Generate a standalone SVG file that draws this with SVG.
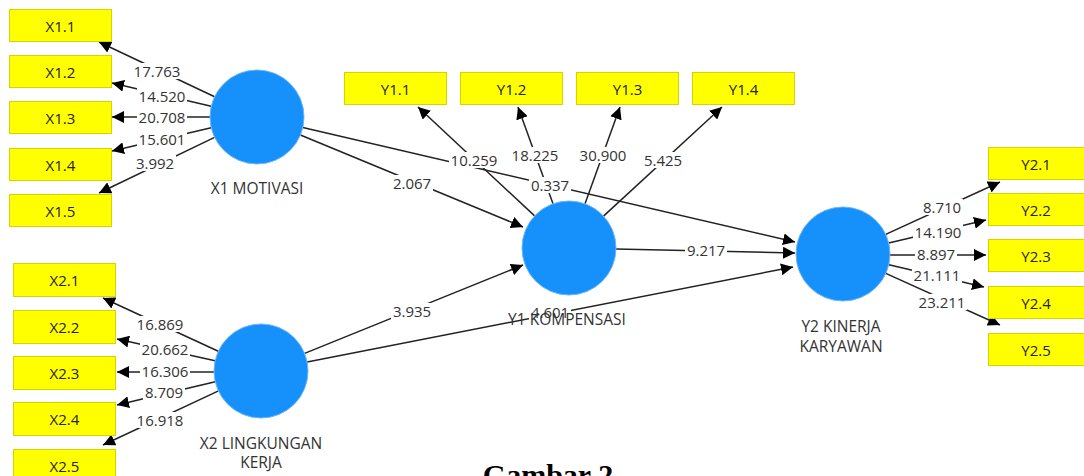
<svg xmlns="http://www.w3.org/2000/svg" width="1084" height="476" viewBox="0 0 1084 476">
<style>
.box{fill:#ffff00;stroke:#d4d400;stroke-width:1}
.bt{font-family:"Open Sans","Liberation Sans",sans-serif;font-size:15px;fill:#222;text-anchor:middle;dominant-baseline:central}
.lv{fill:#1690fb;stroke:#6fb6f7;stroke-width:1}
.lt{font-family:"Open Sans","Liberation Sans",sans-serif;font-size:15.5px;fill:#333;text-anchor:middle;dominant-baseline:central}
.ln{stroke:#222;stroke-width:1.5;fill:none;marker-end:url(#ah)}
.bg{fill:#fff}
.el{font-family:"Open Sans","Liberation Sans",sans-serif;font-size:15px;fill:#333;text-anchor:middle;dominant-baseline:central}
.cap{font-family:"Liberation Serif",serif;font-size:30px;font-weight:bold;fill:#000;text-anchor:middle}
</style>
<defs>
<marker id="ah" viewBox="0 0 10 10" refX="10" refY="5" markerWidth="12" markerHeight="12" markerUnits="userSpaceOnUse" orient="auto">
<path d="M0,0 L10,5 L0,10 z" fill="#000"/>
</marker>
</defs>
<rect width="1084" height="476" fill="#fff"/>
<g id="connectors">
<line class="ln" x1="214.6" y1="96.8" x2="99" y2="42"/>
<line class="ln" x1="211.2" y1="106.3" x2="112" y2="83"/>
<line class="ln" x1="210" y1="117" x2="112" y2="117"/>
<line class="ln" x1="211.2" y1="127.7" x2="112" y2="151"/>
<line class="ln" x1="214.6" y1="137.4" x2="99" y2="193"/>
<line class="ln" x1="218.3" y1="351.3" x2="103" y2="298"/>
<line class="ln" x1="215.1" y1="360.8" x2="117" y2="339"/>
<line class="ln" x1="214" y1="372" x2="117" y2="372"/>
<line class="ln" x1="215.3" y1="381.8" x2="117" y2="405"/>
<line class="ln" x1="218.5" y1="390.9" x2="103" y2="445"/>
<line class="ln" x1="534.6" y1="215.9" x2="418" y2="107"/>
<line class="ln" x1="553" y1="203.8" x2="518" y2="107"/>
<line class="ln" x1="585" y1="203.8" x2="620" y2="107"/>
<line class="ln" x1="603.5" y1="216.1" x2="722" y2="107"/>
<line class="ln" x1="302.8" y1="127.6" x2="795" y2="242"/>
<line class="ln" x1="300.4" y1="135" x2="523" y2="227"/>
<line class="ln" x1="304.6" y1="353.4" x2="523" y2="265"/>
<line class="ln" x1="307.1" y1="362" x2="793" y2="267"/>
<line class="ln" x1="616" y1="249" x2="795" y2="253"/>
<line class="ln" x1="885.7" y1="234.4" x2="1000" y2="182"/>
<line class="ln" x1="888.7" y1="243.1" x2="986" y2="220"/>
<line class="ln" x1="890" y1="255" x2="986" y2="255"/>
<line class="ln" x1="888.8" y1="264.7" x2="984" y2="287"/>
<line class="ln" x1="885.8" y1="273.4" x2="1000" y2="325"/>
<rect class="bg" x="132" y="63" width="50" height="16"/><text class="el" x="157" y="71">17.763</text>
<rect class="bg" x="137" y="88" width="50" height="16"/><text class="el" x="162" y="96">14.520</text>
<rect class="bg" x="137" y="109" width="50" height="16"/><text class="el" x="162" y="117">20.708</text>
<rect class="bg" x="137" y="131" width="50" height="16"/><text class="el" x="162" y="139">15.601</text>
<rect class="bg" x="134" y="155" width="42" height="16"/><text class="el" x="155" y="163">3.992</text>
<rect class="bg" x="135" y="316" width="50" height="16"/><text class="el" x="160" y="324">16.869</text>
<rect class="bg" x="140" y="341" width="50" height="16"/><text class="el" x="165" y="349">20.662</text>
<rect class="bg" x="140" y="363" width="50" height="16"/><text class="el" x="165" y="371">16.306</text>
<rect class="bg" x="143" y="384" width="42" height="16"/><text class="el" x="164" y="392">8.709</text>
<rect class="bg" x="135" y="412" width="50" height="16"/><text class="el" x="160" y="420">16.918</text>
<rect class="bg" x="449" y="152" width="50" height="16"/><text class="el" x="474" y="160">10.259</text>
<rect class="bg" x="510" y="147" width="50" height="16"/><text class="el" x="535" y="155">18.225</text>
<rect class="bg" x="578" y="147" width="50" height="16"/><text class="el" x="603" y="155">30.900</text>
<rect class="bg" x="642" y="152" width="42" height="16"/><text class="el" x="663" y="160">5.425</text>
<rect class="bg" x="391" y="175" width="42" height="16"/><text class="el" x="412" y="183">2.067</text>
<rect class="bg" x="529" y="177" width="42" height="16"/><text class="el" x="550" y="185">0.337</text>
<rect class="bg" x="685" y="242" width="42" height="16"/><text class="el" x="706" y="250">9.217</text>
<rect class="bg" x="391" y="303" width="42" height="16"/><text class="el" x="412" y="311">3.935</text>
<rect class="bg" x="529" y="304" width="42" height="16"/><text class="el" x="550" y="312">4.601</text>
<rect class="bg" x="921" y="199" width="42" height="16"/><text class="el" x="942" y="207">8.710</text>
<rect class="bg" x="913" y="224" width="50" height="16"/><text class="el" x="938" y="232">14.190</text>
<rect class="bg" x="915" y="246" width="42" height="16"/><text class="el" x="936" y="254">8.897</text>
<rect class="bg" x="912" y="267" width="50" height="16"/><text class="el" x="937" y="275">21.111</text>
<rect class="bg" x="917" y="294" width="50" height="16"/><text class="el" x="942" y="302">23.211</text>
</g>
<g id="X1.1"><rect class="box" x="9.5" y="9.5" width="102" height="32"/><text class="bt" x="60.5" y="25.5">X1.1</text></g>
<g id="X1.2"><rect class="box" x="9.5" y="55.5" width="102" height="32"/><text class="bt" x="60.5" y="71.5">X1.2</text></g>
<g id="X1.3"><rect class="box" x="9.5" y="101.5" width="102" height="32"/><text class="bt" x="60.5" y="117.5">X1.3</text></g>
<g id="X1.4"><rect class="box" x="9.5" y="148.5" width="102" height="32"/><text class="bt" x="60.5" y="164.5">X1.4</text></g>
<g id="X1.5"><rect class="box" x="9.5" y="194.5" width="102" height="32"/><text class="bt" x="60.5" y="210.5">X1.5</text></g>
<g id="X2.1"><rect class="box" x="13.5" y="263.5" width="102" height="33"/><text class="bt" x="64.5" y="280">X2.1</text></g>
<g id="X2.2"><rect class="box" x="13.5" y="310.5" width="102" height="33"/><text class="bt" x="64.5" y="327">X2.2</text></g>
<g id="X2.3"><rect class="box" x="13.5" y="356.5" width="102" height="33"/><text class="bt" x="64.5" y="373">X2.3</text></g>
<g id="X2.4"><rect class="box" x="13.5" y="402.5" width="102" height="33"/><text class="bt" x="64.5" y="419">X2.4</text></g>
<g id="X2.5"><rect class="box" x="13.5" y="449.5" width="102" height="33"/><text class="bt" x="64.5" y="466">X2.5</text></g>
<g id="Y1.1"><rect class="box" x="344.5" y="72.5" width="102" height="32"/><text class="bt" x="395.5" y="88.5">Y1.1</text></g>
<g id="Y1.2"><rect class="box" x="460.5" y="72.5" width="102" height="32"/><text class="bt" x="511.5" y="88.5">Y1.2</text></g>
<g id="Y1.3"><rect class="box" x="576.5" y="72.5" width="102" height="32"/><text class="bt" x="627.5" y="88.5">Y1.3</text></g>
<g id="Y1.4"><rect class="box" x="692.5" y="72.5" width="102" height="32"/><text class="bt" x="743.5" y="88.5">Y1.4</text></g>
<g id="Y2.1"><rect class="box" x="988.5" y="147.5" width="96" height="32"/><text class="bt" x="1036" y="163.5">Y2.1</text></g>
<g id="Y2.2"><rect class="box" x="988.5" y="193.5" width="96" height="32"/><text class="bt" x="1036" y="209.5">Y2.2</text></g>
<g id="Y2.3"><rect class="box" x="988.5" y="239.5" width="96" height="32"/><text class="bt" x="1036" y="255.5">Y2.3</text></g>
<g id="Y2.4"><rect class="box" x="988.5" y="286.5" width="96" height="32"/><text class="bt" x="1036" y="302.5">Y2.4</text></g>
<g id="Y2.5"><rect class="box" x="988.5" y="333.5" width="96" height="32"/><text class="bt" x="1036" y="349.5">Y2.5</text></g>
<g id="X1"><circle class="lv" cx="257" cy="117" r="47"/><text class="lt" x="257" y="188">X1 MOTIVASI</text></g>
<g id="X2"><circle class="lv" cx="261" cy="371" r="47"/><text class="lt" x="261" y="443">X2 LINGKUNGAN</text><text class="lt" x="261" y="462">KERJA</text></g>
<g id="Y1"><circle class="lv" cx="569" cy="248" r="47"/><text class="lt" x="567" y="319">Y1 KOMPENSASI</text></g>
<g id="Y2"><circle class="lv" cx="843" cy="254" r="47"/><text class="lt" x="841" y="326">Y2 KINERJA</text><text class="lt" x="841" y="346">KARYAWAN</text></g>
<text class="cap" x="548" y="485">Gambar 2</text>
</svg>
